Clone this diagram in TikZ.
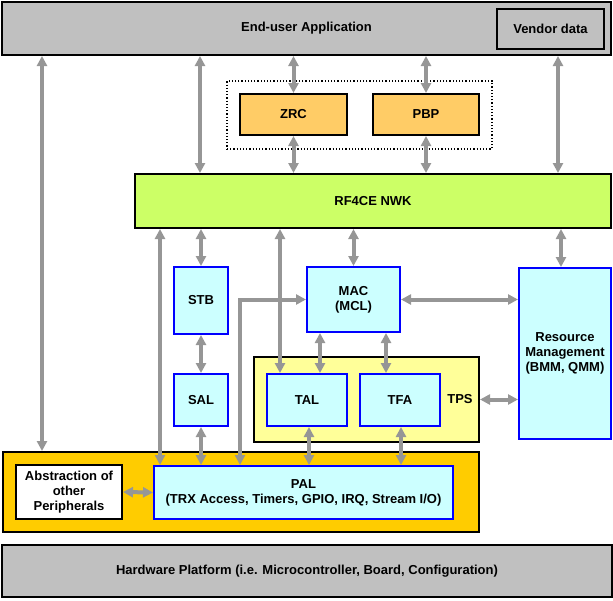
\documentclass[tikz,border=0pt]{standalone}
\usepackage{fontspec}
\setmainfont{Liberation Sans}
\usetikzlibrary{arrows.meta,positioning}

\definecolor{platgray}{RGB}{192,192,192}
\definecolor{linkgray}{RGB}{150,150,150}
\definecolor{proforange}{RGB}{255,204,102}
\definecolor{nwkgreen}{RGB}{204,255,102}
\definecolor{modcyan}{RGB}{204,255,255}
\definecolor{tpsyellow}{RGB}{255,255,153}
\definecolor{halorange}{RGB}{255,204,0}

\begin{document}
\begin{tikzpicture}[
    x=1pt, y=-1pt,
    font=\fontsize{13}{15}\selectfont\bfseries,
    blk/.style={draw=black, line width=2pt, align=center, inner sep=0pt},
    modbox/.style={draw=blue, fill=modcyan, line width=2pt, align=center, inner sep=0pt},
    link/.style={{Triangle[length=10pt,width=10pt]}-{Triangle[length=10pt,width=10pt]}, draw=linkgray, line width=4pt}
]
\useasboundingbox (0,0) rectangle (613,600);

% Application layer
\node[blk, fill=platgray, minimum width=609pt, minimum height=53pt] (app) at (306.5,28.5) {End-user Application};
\node[blk, fill=platgray, minimum width=107pt, minimum height=40pt] (vendor) at (550.5,29) {Vendor data};

% Profiles
\node[draw=black, line width=1.2pt, dotted, minimum width=265pt, minimum height=68pt] (prof) at (359.5,115) {};
\node[blk, fill=proforange, minimum width=107pt, minimum height=41pt] (zrc) at (293.5,114.5) {ZRC};
\node[blk, fill=proforange, minimum width=106pt, minimum height=41pt] (pbp) at (426,114.5) {PBP};

% Network layer
\node[blk, fill=nwkgreen, minimum width=476pt, minimum height=54pt] (nwk) at (373,201) {RF4CE NWK};

% MAC and resource management
\node[modbox, minimum width=54pt, minimum height=67pt] (stb) at (201,300.5) {STB};
\node[modbox, minimum width=93pt, minimum height=65pt] (mac) at (353.5,299.5) {MAC\\(MCL)};
\node[modbox, minimum width=92pt, minimum height=171pt] (rm) at (565,353.5) {Resource\\Management\\(BMM, QMM)};

% TPS
\node[blk, fill=tpsyellow, minimum width=225pt, minimum height=85pt] (tps) at (366.5,399.5) {};
\node (tpslbl) at (460,399) {TPS};
\node[modbox, minimum width=54pt, minimum height=52pt] (sal) at (201,400) {SAL};
\node[modbox, minimum width=80pt, minimum height=52pt] (tal) at (307,400) {TAL};
\node[modbox, minimum width=80pt, minimum height=52pt] (tfa) at (400,400) {TFA};

% Platform abstraction
\node[blk, fill=halorange, minimum width=476pt, minimum height=80pt] (hal) at (241,492) {};
\node[blk, fill=white, minimum width=106pt, minimum height=54pt] (other) at (69,492) {Abstraction of\\other\\Peripherals};
\node[modbox, minimum width=299pt, minimum height=53pt] (pal) at (303.5,492.5) {PAL\\(TRX Access, Timers, GPIO, IRQ, Stream I/O)};

% Hardware
\node[blk, fill=platgray, minimum width=610pt, minimum height=52pt] (hw) at (307,571) {Hardware Platform (i.e. Microcontroller, Board, Configuration)};

% Links from the application
\draw[link] (app.south -| 42,0) -- (hal.north -| 42,0);
\draw[link] (app.south -| 200,0) -- (nwk.north -| 200,0);
\draw[link] (app.south -| zrc.north) -- (zrc.north);
\draw[link] (zrc.south) -- (nwk.north -| zrc.south);
\draw[link] (app.south -| pbp.north) -- (pbp.north);
\draw[link] (pbp.south) -- (nwk.north -| pbp.south);
\draw[link] (app.south -| 558,0) -- (nwk.north -| 558,0);

% Links below the network layer
\draw[link] (nwk.south -| 160,0) -- (pal.north -| 160,0);
\draw[link] (nwk.south -| stb.north) -- (stb.north);
\draw[link] (stb.south) -- (sal.north);
\draw[link] (sal.south) -- (pal.north -| sal.south);
\draw[link] (nwk.south -| 280,0) -- (tal.north -| 280,0);
\draw[link] (nwk.south -| mac.north) -- (mac.north);
\draw[link] (nwk.south -| 561,0) -- (rm.north -| 561,0);
\draw[link] (pal.north -| 240,0) |- (mac.west);
\draw[link] (mac.east) -- (mac.east -| rm.west);
\draw[link] (mac.south -| 320,0) -- (tal.north -| 320,0);
\draw[link] (mac.south -| 386,0) -- (tfa.north -| 386,0);
\draw[link] (tal.south -| 309,0) -- (pal.north -| 309,0);
\draw[link] (tfa.south -| 401,0) -- (pal.north -| 401,0);
\draw[link] (tps.east) -- (tps.east -| rm.west);
\draw[link] (other.east) -- (pal.west);

\end{tikzpicture}
\end{document}
